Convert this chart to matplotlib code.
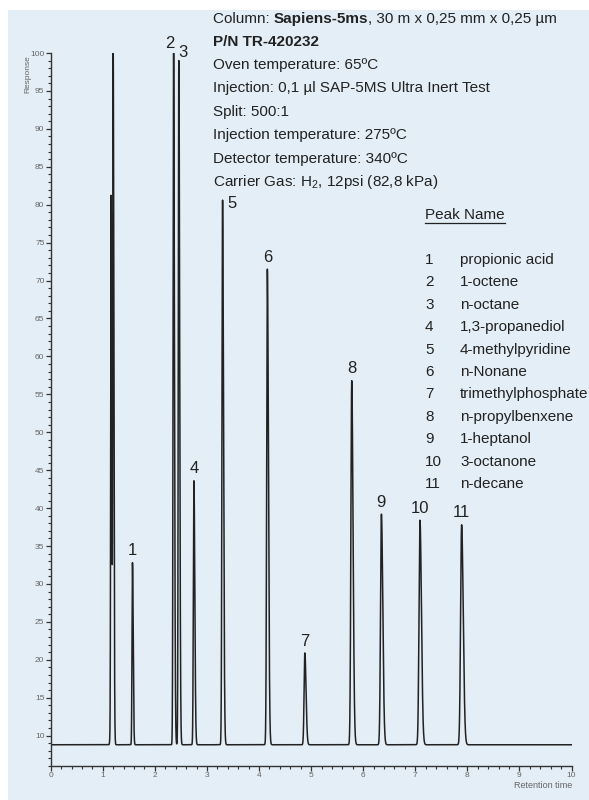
import numpy as np
import matplotlib.pyplot as plt
from matplotlib.patches import Rectangle
from matplotlib.ticker import MultipleLocator

W, H = 589, 800

# solvent front (unlabelled) + the 11 test-mix peaks
solvent_rt = [1.14, 1.16, 1.20]
solvent_h = [9.6, 81.0, 100.0]

peak_no = ['1', '2', '3', '4', '5', '6', '7', '8', '9', '10', '11']
peak_rt = [1.57, 2.36, 2.46, 2.75, 3.30, 4.16, 4.88, 5.78, 6.35, 7.09, 7.89]
peak_h = [32.8, 100.0, 99.0, 43.6, 80.6, 71.5, 20.9, 56.8, 39.2, 38.4, 37.8]
peak_names = ['propionic acid', '1-octene', 'n-octane', '1,3-propanediol',
              '4-methylpyridine', 'n-Nonane', 'trimethylphosphate',
              'n-propylbenxene', '1-heptanol', '3-octanone', 'n-decane']
baseline = 8.8

header = ['Oven temperature: 65ºC',
          'Injection: 0,1 µl SAP-5MS Ultra Inert Test',
          'Split: 500:1',
          'Injection temperature: 275ºC',
          'Detector temperature: 340ºC',
          'Carrier Gas: H$_2$, 12psi (82,8 kPa)']

FONT = ['Liberation Sans', 'DejaVu Sans']
plt.rcParams['font.family'] = FONT
plt.rcParams['mathtext.fontset'] = 'custom'
plt.rcParams['mathtext.rm'] = 'Liberation Sans'
plt.rcParams['mathtext.it'] = 'Liberation Sans'
plt.rcParams['mathtext.bf'] = 'Liberation Sans:bold'

FS = 11
INK = '#222222'


def px(x, y):
    return x / W, 1 - y / H


# build the trace from the peak table
t = np.linspace(0, 10, 20001)
sig_all = np.full_like(t, baseline)
for rt, h in zip(solvent_rt + peak_rt, solvent_h + peak_h):
    s = 0.006 + 0.0017 * rt
    left = np.exp(-0.5 * ((t - rt) / s) ** 2)
    right = np.exp(-0.5 * ((t - rt) / (1.6 * s)) ** 2)
    sig_all += (h - baseline) * np.where(t < rt, left, right)

fig = plt.figure(figsize=(W / 100, H / 100), dpi=100)
fig.patches.append(Rectangle((8 / W, 0), 1, 1 - 10 / H, transform=fig.transFigure,
                             facecolor='#e3eef6', edgecolor='none', zorder=-10))

ax = fig.add_axes([50.7 / W, 34 / H, (571.5 - 50.7) / W, (766 - 53) / H])
ax.set_facecolor('none')
ax.plot(t, sig_all, color=INK, lw=1.1)
ax.set_xlim(0, 10)
ax.set_ylim(6, 100)

for s in ['top', 'right']:
    ax.spines[s].set_visible(False)
for s in ['left', 'bottom']:
    ax.spines[s].set_color('#333333')
    ax.spines[s].set_linewidth(1.0)

ax.xaxis.set_major_locator(MultipleLocator(1))
ax.xaxis.set_minor_locator(MultipleLocator(0.2))
ax.yaxis.set_minor_locator(MultipleLocator(1))
ax.set_yticks(np.arange(10, 101, 5))
ax.tick_params(which='major', length=3.5, width=0.9, color='#333333',
               labelsize=6, labelcolor='#666666', pad=1)
ax.tick_params(which='minor', length=2, width=0.8, color='#333333')

fig.text(*px(28, 55), 'Response', rotation=90, ha='center', va='top',
         fontsize=6, color='#666666')
fig.text(*px(572, 785), 'Retention time', ha='right', va='center',
         fontsize=6.5, color='#666666')

# peak numbers (5 sits beside its peak, under the header block)
dx = {'2': -3, '3': 3, '5': 7}
dy = {'2': 6.5, '3': 6, '5': -2.5}
for no, rt, h in zip(peak_no, peak_rt, peak_h):
    ax.annotate(no, (rt, h), xytext=(dx.get(no, 0), dy.get(no, 8.5)),
                textcoords='offset points', ha='center', va='center',
                fontsize=12, color=INK, annotation_clip=False)

# header block
r = fig.canvas.get_renderer()
x0 = 213
t1 = fig.text(*px(x0, 19), 'Column: ', fontsize=FS, va='center', color=INK)
x1 = t1.get_window_extent(r).x1
t2 = fig.text(x1 / W, 1 - 19 / H, 'Sapiens-5ms', fontsize=FS, va='center',
              weight='bold', color=INK)
x2 = t2.get_window_extent(r).x1
fig.text(x2 / W, 1 - 19 / H, ', 30 m x 0,25 mm x 0,25 µm', fontsize=FS,
         va='center', color=INK)
fig.text(*px(x0, 42), 'P/N TR-420232', fontsize=FS, va='center',
         weight='bold', color=INK)
for i, line in enumerate(header):
    fig.text(*px(x0, 65 + 23.4 * i), line, fontsize=FS, va='center', color=INK)

# peak name table
tp = fig.text(*px(425, 215), 'Peak Name', fontsize=FS, va='center', color=INK)
bb = tp.get_window_extent(r)
fig.add_artist(plt.Line2D([bb.x0 / W, bb.x1 / W], [1 - 223 / H, 1 - 223 / H],
                          color=INK, lw=0.9))
for i, (no, name) in enumerate(zip(peak_no, peak_names)):
    yy = 260 + 22.4 * i
    fig.text(*px(425, yy), no, fontsize=FS, va='center', color=INK)
    fig.text(*px(460, yy), name, fontsize=FS, va='center', color=INK)

fig.savefig('out.png', dpi=100)
